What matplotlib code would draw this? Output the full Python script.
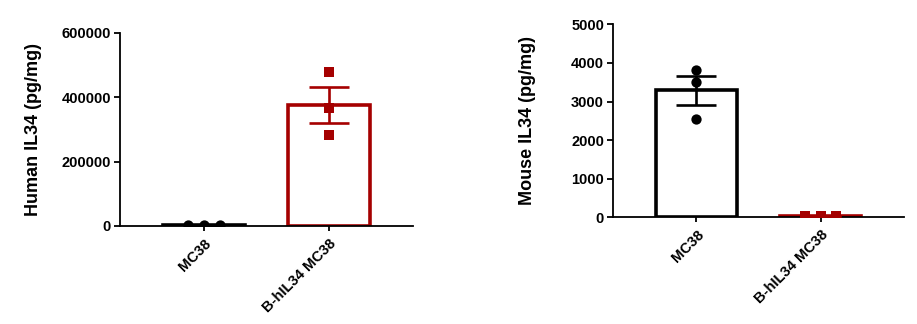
import numpy as np
import matplotlib.pyplot as plt

plt.rcParams['font.family'] = ['Liberation Sans', 'DejaVu Sans']
plt.rcParams['font.weight'] = 'bold'

groups = ['MC38', 'B-hIL34 MC38']

# individual sample values (pg/mg)
human_mc38 = [3000, 4500, 4000]
human_hil34 = [479700, 366000, 283000]
mouse_mc38 = [3816, 3497, 2547]
mouse_hil34 = [30, 45, 40]

human_ticks = [0, 200000, 400000, 600000]
mouse_ticks = [0, 1000, 2000, 3000, 4000, 5000]

RED = '#a50000'
BLACK = '#000000'


def draw_panel(ax, samples, colors, markers, spread, ticks, ylabel, pad):
    for i, (vals, c, m, spr) in enumerate(zip(samples, colors, markers, spread)):
        vals = np.asarray(vals, dtype=float)
        mean = vals.mean()
        sem = vals.std(ddof=1) / np.sqrt(len(vals))
        ax.bar(i, mean, width=0.656, facecolor='white', edgecolor=c,
               linewidth=2.6, zorder=2)
        ax.errorbar(i, mean, yerr=sem, color=c, capsize=14.5, capthick=1.9,
                    elinewidth=1.9, fmt='none', zorder=3)
        offs = np.array([-0.125, 0.0, 0.125]) if spr else np.zeros(len(vals))
        ax.scatter(i + offs, vals, color=c, marker=m, s=55, zorder=4,
                   linewidths=0)

    ax.set_xlim(-0.672, 1.672)
    ax.set_ylim(ticks[0], ticks[-1])
    ax.set_yticks(ticks)
    ax.set_yticklabels([str(t) for t in ticks], fontsize=10.5, fontweight='bold')
    ax.set_xticks(range(len(groups)))
    ax.set_xticklabels(groups, rotation=45, ha='right', rotation_mode='anchor',
                       fontsize=10.5, fontweight='bold')
    ax.set_ylabel(ylabel, fontsize=13, fontweight='bold', labelpad=pad)
    for s in ['top', 'right']:
        ax.spines[s].set_visible(False)
    ax.spines['left'].set_linewidth(1.3)
    ax.spines['bottom'].set_linewidth(1.3)
    ax.tick_params(axis='y', length=4.5, width=1.3, pad=2)
    ax.tick_params(axis='x', length=3.5, width=1.3, pad=4)


fig = plt.figure(figsize=(9.17, 3.24), dpi=100)
ax1 = fig.add_axes([0.1309, 0.3025, 0.3195, 0.5957])
ax2 = fig.add_axes([0.6685, 0.3293, 0.3173, 0.5957])

draw_panel(ax1, [human_mc38, human_hil34], [BLACK, RED], ['o', 's'],
           [True, False], human_ticks, 'Human IL34 (pg/mg)', 14)
draw_panel(ax2, [mouse_mc38, mouse_hil34], [BLACK, RED], ['o', 's'],
           [False, True], mouse_ticks, 'Mouse IL34 (pg/mg)', 25)

fig.savefig('out.png', dpi=100, facecolor='white')
